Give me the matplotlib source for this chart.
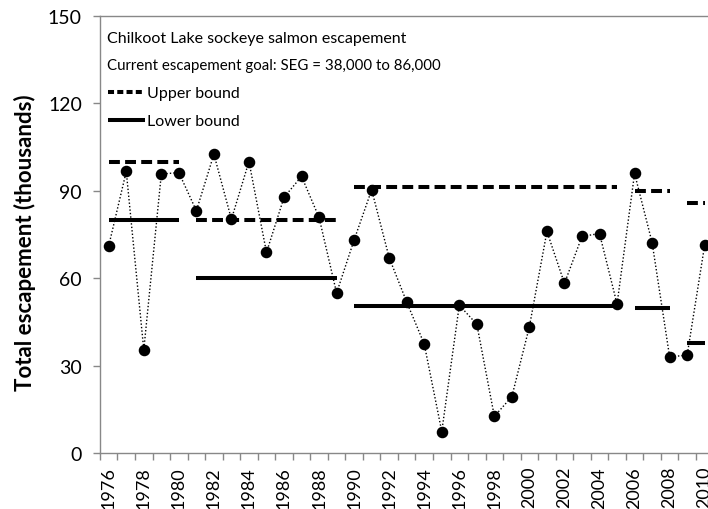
import matplotlib
matplotlib.use("Agg")
import matplotlib.pyplot as plt
from matplotlib.lines import Line2D

plt.rcParams['font.family'] = ['Lato', 'DejaVu Sans']

years = list(range(1976, 2011))
# escapement in thousands
escapement = [71.2, 96.7, 35.5, 95.8, 96.3, 83.2, 102.6, 80.3, 100.1, 68.9,
              87.8, 95.0, 80.9, 55.0, 73.2, 90.4, 67.1, 51.9, 37.5, 7.5,
              50.8, 44.3, 12.7, 19.5, 43.5, 76.1, 58.3, 74.4, 75.4, 51.2,
              96.0, 72.3, 33.1, 33.7, 71.5]

# goal periods (first year, last year) and bounds
goal_start = [1976, 1981, 1990, 2006, 2009]
goal_end = [1980, 1989, 2005, 2008, 2010]
upper_bound = [100, 80, 91.5, 90, 86]
lower_bound = [80, 60, 50.5, 50, 38]

fig = plt.figure(figsize=(7.08, 5.10), dpi=100)
ax = fig.add_axes([0.1412, 0.109, 0.8665, 0.8577])

for s, e, ub, lb in zip(goal_start, goal_end, upper_bound, lower_bound):
    yrs = list(range(s, e + 1))
    ax.plot(yrs, [ub] * len(yrs), color='black', lw=2.9, dashes=(2.7, 1.3),
            dash_capstyle='butt', solid_capstyle='butt')
    ax.plot(yrs, [lb] * len(yrs), color='black', lw=2.9, solid_capstyle='butt')

ax.plot(years, escapement, color='black', lw=1.0, linestyle=(0, (1, 1.5)),
        marker='o', markersize=7.3, markerfacecolor='black', markeredgecolor='black')

ax.set_xlim(1975.5, 2010.5)
ax.set_ylim(0, 150)
ax.set_yticks([0, 30, 60, 90, 120, 150])
ax.set_xticks(years[::2])
ax.set_xticks([y + 0.5 for y in range(1975, 2011)], minor=True)
ax.tick_params(axis='x', which='major', length=0, labelrotation=90, labelsize=13, pad=9)
ax.tick_params(axis='x', which='minor', length=5, color='#888888', width=1)
ax.tick_params(axis='y', length=5, color='#888888', width=1, labelsize=14, pad=8)

for side in ['left', 'bottom', 'top']:
    ax.spines[side].set_color('#888888')
    ax.spines[side].set_linewidth(1)
ax.spines['right'].set_visible(False)

ax.set_ylabel('Total escapement (thousands)', fontsize=16, fontweight='bold')
ax.yaxis.set_label_coords(-0.104, 0.483)

ax.text(0.012, 0.95, 'Chilkoot Lake sockeye salmon escapement', transform=ax.transAxes,
        fontsize=11.5, va='center', ha='left')
ax.text(0.012, 0.887, 'Current escapement goal: SEG = 38,000 to 86,000', transform=ax.transAxes,
        fontsize=10.8, va='center', ha='left')

handles = [Line2D([], [], color='black', lw=2.9, dashes=(1.5, 0.8), dash_capstyle='butt'),
           Line2D([], [], color='black', lw=2.9, solid_capstyle='butt')]
ax.legend(handles, ['Upper bound', 'Lower bound'], loc='upper left',
          bbox_to_anchor=(-0.005, 0.865), frameon=False, fontsize=11.5,
          handlelength=2.3, handletextpad=0.15, labelspacing=0.85, borderpad=0.2)

fig.savefig('out.png', dpi=100)
